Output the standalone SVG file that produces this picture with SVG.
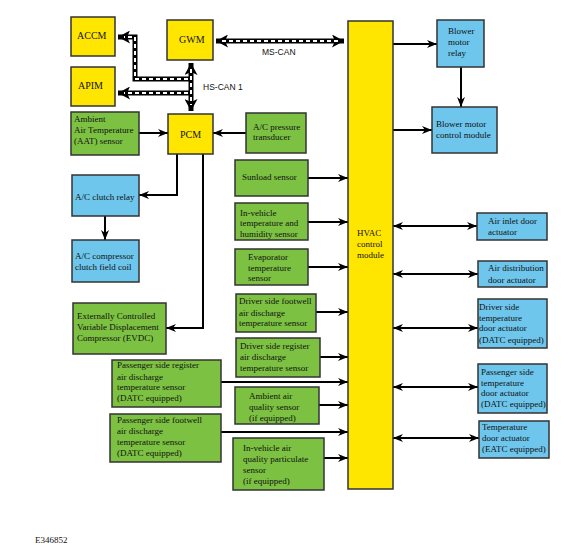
<svg xmlns="http://www.w3.org/2000/svg" width="585" height="552" viewBox="0 0 585 552">
<style>
.y{fill:#FFE600;stroke:#333;stroke-width:1.5}
.g{fill:#7CC142;stroke:#333;stroke-width:1.5}
.b{fill:#6EC6EC;stroke:#333;stroke-width:1.5}
text{font-family:"Liberation Serif","Times New Roman",serif;font-size:9px;fill:#111}
.m{font-size:10px}
.s{font-family:"Liberation Sans",Arial,sans-serif;font-size:8.5px}
.w{fill:none;stroke:#000;stroke-width:2}
.cb{fill:none;stroke:#000;stroke-width:5}
.cw{fill:none;stroke:#fff;stroke-width:2;stroke-dasharray:4 3}
</style>
<defs>
<marker id="a" markerUnits="userSpaceOnUse" markerWidth="11" markerHeight="9" refX="10" refY="4.5" orient="auto-start-reverse"><path d="M0,0.5 L10,4.5 L0,8.5 L3,4.5 z" fill="#000"/></marker>
<marker id="c" markerUnits="userSpaceOnUse" markerWidth="13" markerHeight="13" refX="12" refY="6.5" orient="auto-start-reverse"><path d="M0,0 L12,6.5 L0,13 L3,6.5 z" fill="#000"/></marker>
</defs>
<rect width="585" height="552" fill="#fff"/>
<g id="connectors">
<g id="ms-can">
<path class="cb" d="M216,41 H344" marker-start="url(#c)" marker-end="url(#c)"/>
<path class="cw" d="M222,41 H338"/>
</g>
<g id="hs-can">
<path class="cb" d="M191,63 V111" marker-start="url(#c)" marker-end="url(#c)"/>
<path class="cb" d="M191,79 H135 V37 H118" marker-end="url(#c)"/>
<path class="cb" d="M191,93 H118" marker-end="url(#c)"/>
<path class="cw" d="M191,69 V105"/>
<path class="cw" d="M188,79 H135 V37 H124"/>
<path class="cw" d="M188,93 H124"/>
</g>
<path class="w" d="M139,133 H168" marker-end="url(#a)"/>
<path class="w" d="M246,133 H213" marker-end="url(#a)"/>
<path class="w" d="M177,154 V195 H139" marker-end="url(#a)"/>
<path class="w" d="M105,216 V240" marker-end="url(#a)"/>
<path class="w" d="M203,154 V328 H166" marker-end="url(#a)"/>
<path class="w" d="M393,44 H437" marker-end="url(#a)"/>
<path class="w" d="M461,67 V107" marker-end="url(#a)"/>
<path class="w" d="M393,130 H432" marker-end="url(#a)"/>
<path class="w" d="M308,178 H348" marker-end="url(#a)"/>
<path class="w" d="M308,222 H348" marker-end="url(#a)"/>
<path class="w" d="M308,267 H348" marker-end="url(#a)"/>
<path class="w" d="M316,312 H348" marker-end="url(#a)"/>
<path class="w" d="M320,357 H348" marker-end="url(#a)"/>
<path class="w" d="M221,382 H348" marker-end="url(#a)"/>
<path class="w" d="M319,405 H348" marker-end="url(#a)"/>
<path class="w" d="M221,432 H348" marker-end="url(#a)"/>
<path class="w" d="M324,458 H348" marker-end="url(#a)"/>
<path class="w" d="M393,226 H477" marker-start="url(#a)" marker-end="url(#a)"/>
<path class="w" d="M393,274 H478" marker-start="url(#a)" marker-end="url(#a)"/>
<path class="w" d="M393,328 H478" marker-start="url(#a)" marker-end="url(#a)"/>
<path class="w" d="M393,387 H478" marker-start="url(#a)" marker-end="url(#a)"/>
<path class="w" d="M393,438 H479" marker-start="url(#a)" marker-end="url(#a)"/>
<text class="s" x="262" y="55">MS-CAN</text>
<text class="s" x="203" y="90">HS-CAN 1</text>
</g>
<g id="accm"><rect class="y" x="71" y="17" width="44" height="39"/><text class="m" x="77" y="39">ACCM</text></g>
<g id="apim"><rect class="y" x="71" y="67" width="44" height="39"/><text class="m" x="78" y="89">APIM</text></g>
<g id="gwm"><rect class="y" x="167" y="20" width="46" height="40"/><text class="m" x="179" y="43">GWM</text></g>
<g id="pcm"><rect class="y" x="168" y="114" width="45" height="40"/><text class="m" x="180" y="138">PCM</text></g>
<g id="hvac"><rect class="y" x="348" y="21" width="45" height="468"/><text x="357" y="236">HVAC</text><text x="357" y="247">control</text><text x="357" y="258">module</text></g>
<g id="aat"><rect class="g" x="71" y="112" width="68" height="43"/><text x="74" y="122">Ambient</text><text x="74" y="133">Air Temperature</text><text x="74" y="144">(AAT) sensor</text></g>
<g id="acpt"><rect class="g" x="246" y="113" width="60" height="40"/><text x="253" y="130">A/C pressure</text><text x="253" y="140">transducer</text></g>
<g id="acrelay"><rect class="b" x="72" y="175" width="67" height="41"/><text x="75" y="200">A/C clutch relay</text></g>
<g id="accoil"><rect class="b" x="72" y="240" width="67" height="42"/><text x="75" y="259">A/C compressor</text><text x="75" y="270">clutch field coil</text></g>
<g id="evdc"><rect class="g" x="73" y="303" width="93" height="51"/><text x="77" y="319">Externally Controlled</text><text x="77" y="330">Variable Displacement</text><text x="77" y="341">Compressor (EVDC)</text></g>
<g id="sunload"><rect class="g" x="235" y="160" width="73" height="36"/><text x="242" y="180">Sunload sensor</text></g>
<g id="invehicle"><rect class="g" x="235" y="203" width="73" height="37"/><text x="240" y="216">In-vehicle</text><text x="240" y="226">temperature and</text><text x="240" y="237">humidity sensor</text></g>
<g id="evap"><rect class="g" x="235" y="249" width="73" height="36"/><text x="248" y="260">Evaporator</text><text x="248" y="271">temperature</text><text x="248" y="281">sensor</text></g>
<g id="dfoot"><rect class="g" x="236" y="294" width="80" height="38"/><text x="239" y="304">Driver side footwell</text><text x="239" y="316">air discharge</text><text x="239" y="326">temperature sensor</text></g>
<g id="dreg"><rect class="g" x="236" y="338" width="84" height="39"/><text x="240" y="349">Driver side register</text><text x="240" y="360">air discharge</text><text x="240" y="371">temperature sensor</text></g>
<g id="preg"><rect class="g" x="112" y="360" width="109" height="47"/><text x="117" y="368">Passenger side register</text><text x="117" y="380">air discharge</text><text x="117" y="390">temperature sensor</text><text x="117" y="401">(DATC equipped)</text></g>
<g id="aaq"><rect class="g" x="235" y="387" width="84" height="37"/><text x="249" y="399">Ambient air</text><text x="249" y="410">quality sensor</text><text x="249" y="421">(if equipped)</text></g>
<g id="pfoot"><rect class="g" x="110" y="414" width="111" height="48"/><text x="117" y="423">Passenger side footwell</text><text x="117" y="434">air discharge</text><text x="117" y="445">temperature sensor</text><text x="117" y="456">(DATC equipped)</text></g>
<g id="iaqp"><rect class="g" x="233" y="438" width="91" height="52"/><text x="243" y="451">In-vehicle air</text><text x="243" y="462">quality particulate</text><text x="243" y="473">sensor</text><text x="243" y="484">(if equipped)</text></g>
<g id="bmr"><rect class="b" x="437" y="20" width="47" height="47"/><text x="448" y="34">Blower</text><text x="448" y="45">motor</text><text x="448" y="56">relay</text></g>
<g id="bmcm"><rect class="b" x="432" y="107" width="65" height="46"/><text x="436" y="127">Blower motor</text><text x="436" y="138">control module</text></g>
<g id="aidoor"><rect class="b" x="477" y="213" width="70" height="27"/><text x="488" y="224">Air inlet door</text><text x="488" y="235">actuator</text></g>
<g id="addoor"><rect class="b" x="478" y="261" width="69" height="26"/><text x="488" y="271">Air distribution</text><text x="488" y="283">door actuator</text></g>
<g id="dtdoor"><rect class="b" x="478" y="299" width="69" height="49"/><text x="479" y="310">Driver side</text><text x="479" y="321">temperature</text><text x="479" y="331">door actuator</text><text x="479" y="343">(DATC equipped)</text></g>
<g id="ptdoor"><rect class="b" x="478" y="364" width="69" height="49"/><text x="481" y="375">Passenger side</text><text x="481" y="386">temperature</text><text x="481" y="396">door actuator</text><text x="481" y="407">(DATC equipped)</text></g>
<g id="etdoor"><rect class="b" x="479" y="421" width="70" height="37"/><text x="482" y="430">Temperature</text><text x="482" y="441">door actuator</text><text x="482" y="452">(EATC equipped)</text></g>
<text x="35" y="543">E346852</text>
</svg>
